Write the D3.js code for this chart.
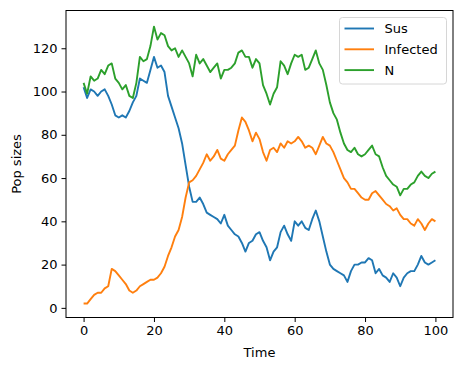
<!DOCTYPE html>
<html>
<head>
<meta charset="utf-8">
<script src="https://cdn.jsdelivr.net/npm/d3@7"></script>
<style>
  body { margin: 0; background: #fff; }
  text { font-family: "DejaVu Sans", sans-serif; fill: #000; }
</style>
</head>
<body>
<div id="chart"></div>
<script>
// time axis, one reading per time unit
let times = d3.range(0, 101);

let susValues = [
  102, 97, 101, 100, 98, 100, 101, 98, 94, 89,
  88, 89, 88, 91, 95, 98, 106, 105, 104, 110,
  116, 111, 112, 109, 98, 93, 88, 83, 76, 66,
  56, 49, 49, 51, 48, 44, 43, 42, 41, 39,
  43, 38, 36, 34, 33, 30, 26, 30, 31, 34,
  35, 31, 28, 22, 26, 28, 35, 38, 34, 31,
  40, 38, 40, 37, 36, 41, 45, 40, 33, 26,
  20, 18, 17, 16, 15, 12, 17, 20, 20, 21,
  21, 23, 22, 16, 18, 15, 14, 12, 16, 14,
  10, 14, 16, 17, 17, 20, 24, 21, 20, 21,
  22
];

let infectedValues = [
  2, 2, 4, 6, 7, 7, 9, 10, 18, 17,
  15, 13, 11, 8, 7, 8, 10, 11, 12, 13,
  13, 14, 16, 19, 24, 28, 33, 36, 42, 51,
  58, 59, 61, 64, 67, 71, 68, 70, 73, 69,
  68, 71, 73, 75, 82, 88, 86, 82, 77, 81,
  78, 72, 68, 73, 74, 72, 76, 74, 77, 76,
  77, 79, 77, 74, 75, 74, 71, 75, 79, 76,
  75, 72, 68, 64, 60, 58, 55, 55, 53, 51,
  50, 50, 53, 54, 52, 50, 48, 47, 45, 46,
  43, 41, 41, 39, 38, 41, 39, 36, 39, 41,
  40
];

let nValues = [
  104, 99, 107, 105, 106, 110, 108, 112, 113, 106,
  104, 101, 103, 98, 97, 104, 116, 114, 115, 121,
  130, 124, 127, 126, 121, 119, 120, 116, 119, 116,
  113, 107, 117, 113, 115, 112, 109, 111, 113, 106,
  110, 110, 111, 113, 118, 119, 116, 116, 111, 115,
  113, 103, 99, 94, 99, 102, 114, 112, 108, 113,
  117, 116, 117, 110, 111, 115, 119, 113, 110, 103,
  95, 90, 87, 81, 76, 73, 72, 74, 71, 70,
  71, 73, 75, 71, 70, 65, 61, 59, 57, 56,
  52, 55, 55, 57, 58, 61, 63, 61, 60, 62,
  63
];

let seriesNames = ["Sus", "Infected", "N"];
let seriesColors = ["#1f77b4", "#ff7f0e", "#2ca02c"];
let xTicks = [0, 20, 40, 60, 80, 100];
let yTicks = [0, 20, 40, 60, 80, 100, 120];

let svgWidth = 463;
let svgHeight = 371;

createChart = function () {
  var series = [susValues, infectedValues, nValues].map(function (vals, i) {
    return {
      name: seriesNames[i],
      color: seriesColors[i],
      points: times.map(function (t, j) { return [t, vals[j]]; })
    };
  });

  const svg = d3.select("#chart")
    .append("svg")
    .attr("width", svgWidth)
    .attr("height", svgHeight);

  // matplotlib-like 5% margins on the data range
  const x = d3.scaleLinear().domain([-5, 105]).range([66, 453]);
  const y = d3.scaleLinear().domain([-4.45, 137.45]).range([317.5, 10.5]);

  const line = d3.line()
    .x(function (d) { return x(d[0]); })
    .y(function (d) { return y(d[1]); });

  const plot = svg.append("g");

  plot.selectAll("path.series")
    .data(series)
    .enter()
    .append("path")
    .attr("class", "series")
    .attr("d", function (d) { return line(d.points); })
    .attr("fill", "none")
    .attr("stroke", function (d) { return d.color; })
    .attr("stroke-width", 1.9)
    .attr("stroke-linejoin", "round");

  // axes
  const xAxis = d3.axisBottom(x).tickValues(xTicks).tickSize(4.5).tickPadding(4);
  const yAxis = d3.axisLeft(y).tickValues(yTicks).tickSize(4.5).tickPadding(4);

  const gx = svg.append("g").attr("transform", "translate(0," + y.range()[0] + ")").call(xAxis);
  const gy = svg.append("g").attr("transform", "translate(" + x.range()[0] + ",0)").call(yAxis);
  [gx, gy].forEach(function (g) {
    g.select(".domain").remove();
    g.selectAll("line").attr("stroke", "#000").attr("stroke-width", 1);
    g.selectAll("text").attr("font-size", 13).attr("fill", "#000")
      .style("font-family", "'DejaVu Sans', sans-serif");
  });

  // frame
  svg.append("rect")
    .attr("x", x.range()[0])
    .attr("y", y.range()[1])
    .attr("width", x.range()[1] - x.range()[0])
    .attr("height", y.range()[0] - y.range()[1])
    .attr("fill", "none")
    .attr("stroke", "#000")
    .attr("stroke-width", 1);

  svg.append("text")
    .attr("x", (x.range()[0] + x.range()[1]) / 2)
    .attr("y", 357)
    .attr("text-anchor", "middle")
    .attr("font-size", 13)
    .text("Time");

  svg.append("text")
    .attr("transform", "translate(21," + (y.range()[0] + y.range()[1]) / 2 + ") rotate(-90)")
    .attr("text-anchor", "middle")
    .attr("font-size", 13)
    .text("Pop sizes");

  // legend
  const legend = svg.append("g").attr("transform", "translate(339.5,17.5)");
  legend.append("rect")
    .attr("width", 107)
    .attr("height", 66.5)
    .attr("rx", 3)
    .attr("fill", "#fff")
    .attr("fill-opacity", 0.8)
    .attr("stroke", "#d6d6d6")
    .attr("stroke-width", 1);

  const items = legend.selectAll("g.item")
    .data(series)
    .enter()
    .append("g")
    .attr("class", "item")
    .attr("transform", function (d, i) { return "translate(0," + (11 + i * 20.8) + ")"; });

  items.append("line")
    .attr("x1", 5)
    .attr("x2", 34.5)
    .attr("stroke", function (d) { return d.color; })
    .attr("stroke-width", 1.9);

  items.append("text")
    .attr("x", 45)
    .attr("dy", "0.36em")
    .attr("font-size", 13)
    .text(function (d) { return d.name; });
};

createChart();
</script>
</body>
</html>
